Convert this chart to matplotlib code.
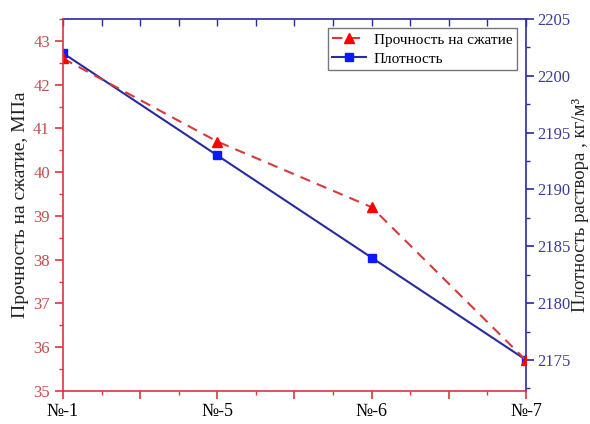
import matplotlib
matplotlib.use('Agg')
import matplotlib.pyplot as plt
from matplotlib.ticker import MultipleLocator, FixedLocator, NullFormatter

# --- Data ---
samples = ['№-1', '№-5', '№-6', '№-7']
strength = [42.6, 40.7, 39.2, 35.7]       # МПа
density = [2202, 2193, 2184, 2175]        # кг/м3

RED = '#d83a3a'
RED_TXT = '#c0504d'
BLUE = '#2a2aa0'
BLUE_MK = '#0a1aff'
BLUE_TXT = '#3c3c96'

plt.rcParams['font.family'] = ['Liberation Serif', 'DejaVu Serif']

fig = plt.figure(figsize=(5.9, 4.24), dpi=100)
ax = fig.add_axes([0.1068, 0.078, 0.7847, 0.877])
ax2 = ax.twinx()

x = list(range(len(samples)))
l1, = ax.plot(x, strength, color=RED, linestyle=(0, (5, 3.5)), linewidth=1.5,
              marker='^', markersize=7, markerfacecolor='#ff0000', markeredgecolor='#ff0000',
              label='Прочность на сжатие')
l2, = ax2.plot(x, density, color=BLUE, linestyle='-', linewidth=1.5,
               marker='s', markersize=6, markerfacecolor=BLUE_MK, markeredgecolor=BLUE_MK,
               label='Плотность')

ax.set_xlim(0, 3)
ax.set_ylim(35, 43.5)
ax2.set_ylim(2172.27, 2205)

# x ticks: major every half step, labels only at samples
major_x = [i * 0.5 for i in range(7)]
ax.xaxis.set_major_locator(FixedLocator(major_x))
ax.set_xticklabels([samples[int(v)] if v == int(v) else '' for v in major_x], fontsize=13)
ax.xaxis.set_minor_locator(MultipleLocator(0.25))
ax.xaxis.set_minor_formatter(NullFormatter())
ax.tick_params(axis='x', which='major', direction='out', length=6, width=1.2,
               color=RED, pad=3)
ax.tick_params(axis='x', which='minor', direction='out', length=3, width=1.0, color=RED)

# secondary x ticks on the top spine (inward)
top = ax.secondary_xaxis('top')
top.xaxis.set_major_locator(MultipleLocator(0.25))
top.xaxis.set_major_formatter(NullFormatter())
top.tick_params(direction='in', length=5, width=1.0, color=BLUE)
top.spines['top'].set_color(BLUE)
top.spines['top'].set_linewidth(1.2)

ax.yaxis.set_major_locator(MultipleLocator(1))
ax.yaxis.set_minor_locator(MultipleLocator(0.5))
ax.tick_params(axis='y', which='major', direction='out', length=6, width=1.2,
               color=RED, labelcolor=RED_TXT, labelsize=12)
ax.tick_params(axis='y', which='minor', direction='out', length=3, width=1.0, color=RED)

ax2.yaxis.set_major_locator(MultipleLocator(5))
ax2.yaxis.set_minor_locator(MultipleLocator(2.5))
ax2.tick_params(axis='y', which='major', direction='out', length=6, width=1.2,
                color=BLUE, labelcolor=BLUE_TXT, labelsize=12, pad=2)
ax2.tick_params(axis='y', which='minor', direction='out', length=3, width=1.0, color=BLUE)

for name in ['left', 'bottom']:
    ax.spines[name].set_color(RED)
    ax.spines[name].set_linewidth(1.2)
ax.spines['top'].set_visible(False)
ax.spines['right'].set_visible(False)
ax2.spines['left'].set_visible(False)
ax2.spines['bottom'].set_visible(False)
ax2.spines['top'].set_visible(False)
ax2.spines['right'].set_color(BLUE)
ax2.spines['right'].set_linewidth(1.2)

ax.set_ylabel('Прочность на сжатие, МПа', fontsize=14, color='#222222', labelpad=3)
ax2.set_ylabel('Плотность раствора , кг/м³', fontsize=13.5, color='#222222', labelpad=1)

leg = ax.legend(handles=[l1, l2], loc='upper right', bbox_to_anchor=(1.0, 1.0),
                fontsize=11, frameon=True, fancybox=False, handlelength=2.2,
                borderpad=0.3, labelspacing=0.35, handletextpad=0.5, borderaxespad=0.6)
leg.get_frame().set_edgecolor('#555555')
leg.get_frame().set_linewidth(1.0)

ax.set_zorder(ax2.get_zorder() + 1)
ax.patch.set_visible(False)

fig.savefig('out.png', dpi=100)
